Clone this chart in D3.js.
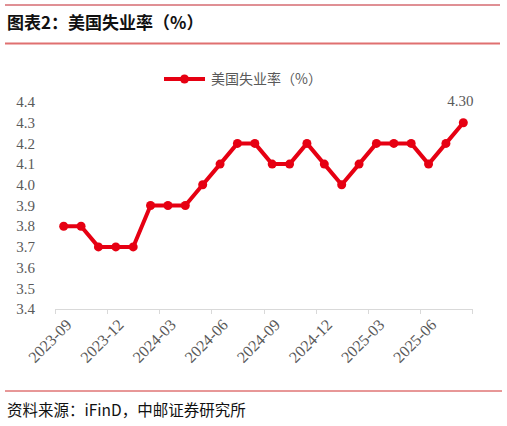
<!DOCTYPE html>
<html><head><meta charset="utf-8">
<script src="https://cdn.jsdelivr.net/npm/d3@7"></script>
<style>body{margin:0;background:#fff}</style>
</head><body>
<svg id="c" width="507" height="426"></svg>
<script>
const months = ["2023-09","2023-10","2023-11","2023-12","2024-01","2024-02","2024-03","2024-04","2024-05","2024-06","2024-07","2024-08","2024-09","2024-10","2024-11","2024-12","2025-01","2025-02","2025-03","2025-04","2025-05","2025-06","2025-07","2025-08"];
const rate = [3.8,3.8,3.7,3.7,3.7,3.9,3.9,3.9,4.0,4.1,4.2,4.2,4.1,4.1,4.2,4.1,4.0,4.1,4.2,4.2,4.2,4.1,4.2,4.3];
const yTicks = [3.4,3.5,3.6,3.7,3.8,3.9,4.0,4.1,4.2,4.3,4.4];
const xLabelMonths = ["2023-09","2023-12","2024-03","2024-06","2024-09","2024-12","2025-03","2025-06"];
const title = "图表2：美国失业率（%）";
const seriesName = "美国失业率（%）";
const source = "资料来源：iFinD，中邮证券研究所";

const svg = d3.select("#c");
const red = "#E60012";
const gray = "#595959";
const serif = "'Liberation Serif','Times New Roman',serif";
const cjk = "'Noto Sans CJK SC',sans-serif";

// header
svg.append("line").attr("x1",5).attr("x2",500).attr("y1",5).attr("y2",5).attr("stroke","#C0202A").attr("stroke-width",1);
svg.append("text").attr("x",7).attr("y",29).text(title)
  .attr("font-family",cjk).attr("font-weight","bold").attr("font-size",17).attr("fill","#111");
svg.append("line").attr("x1",5).attr("x2",500).attr("y1",43.5).attr("y2",43.5).attr("stroke","#E07070").attr("stroke-width",2);

const x = d3.scaleBand().domain(months).range([55,472]);
const y = d3.scaleLinear().domain([3.4,4.4]).range([309,102]);

// y axis labels
svg.append("g").selectAll("text").data(yTicks).join("text")
  .attr("x",35).attr("y",d=>y(d)).attr("dy","0.35em").attr("text-anchor","end")
  .attr("font-family",serif).attr("font-size",15).attr("fill",gray)
  .text(d=>d3.format(".1f")(d));

// x axis
const tickIdx = d3.range(0, months.length+1, 3);
const gx = svg.append("g");
gx.append("line").attr("x1",55).attr("x2",472).attr("y1",309.5).attr("y2",309.5).attr("stroke","#d9d9d9").attr("stroke-width",1);
gx.selectAll("line.t").data(tickIdx).join("line").attr("class","t")
  .attr("x1",i=>Math.round(55 + i*x.step())+0.5).attr("x2",i=>Math.round(55 + i*x.step())+0.5)
  .attr("y1",309).attr("y2",314).attr("stroke","#d9d9d9");
gx.selectAll("text").data(xLabelMonths).join("text")
  .attr("transform",d=>`translate(${x(d)+x.bandwidth()/2+5},${322}) rotate(-45)`)
  .attr("text-anchor","end").attr("dy","0.35em")
  .attr("font-family",serif).attr("font-size",16).attr("fill",gray)
  .text(d=>d);

// line
const pts = months.map((m,i)=>({m, v: rate[i]}));
const line = d3.line().x(d=>x(d.m)+x.bandwidth()/2).y(d=>y(d.v));
svg.append("path").datum(pts).attr("d",line).attr("fill","none")
  .attr("stroke",red).attr("stroke-width",4).attr("stroke-linejoin","round");
svg.append("g").selectAll("circle").data(pts).join("circle")
  .attr("cx",d=>x(d.m)+x.bandwidth()/2).attr("cy",d=>y(d.v)).attr("r",4.5).attr("fill",red);

// last label
const last = pts[pts.length-1];
svg.append("text").attr("x",x(last.m)+x.bandwidth()/2-3).attr("y",y(last.v)-17)
  .attr("text-anchor","middle").attr("font-family",serif).attr("font-size",15).attr("fill",gray)
  .text(d3.format(".2f")(last.v));

// legend
svg.append("line").attr("x1",164).attr("x2",205).attr("y1",79).attr("y2",79).attr("stroke",red).attr("stroke-width",4);
svg.append("circle").attr("cx",184.5).attr("cy",79).attr("r",4.5).attr("fill",red);
svg.append("text").attr("x",211).attr("y",79).attr("dy","0.35em").text(seriesName)
  .attr("font-family",cjk).attr("font-size",14).attr("fill",gray);

// footer
svg.append("line").attr("x1",5).attr("x2",502).attr("y1",391).attr("y2",391).attr("stroke","#D03030").attr("stroke-width",1);
svg.append("text").attr("x",7).attr("y",416).text(source)
  .attr("font-family",cjk).attr("font-size",15.5).attr("fill","#111");
</script>
</body></html>
